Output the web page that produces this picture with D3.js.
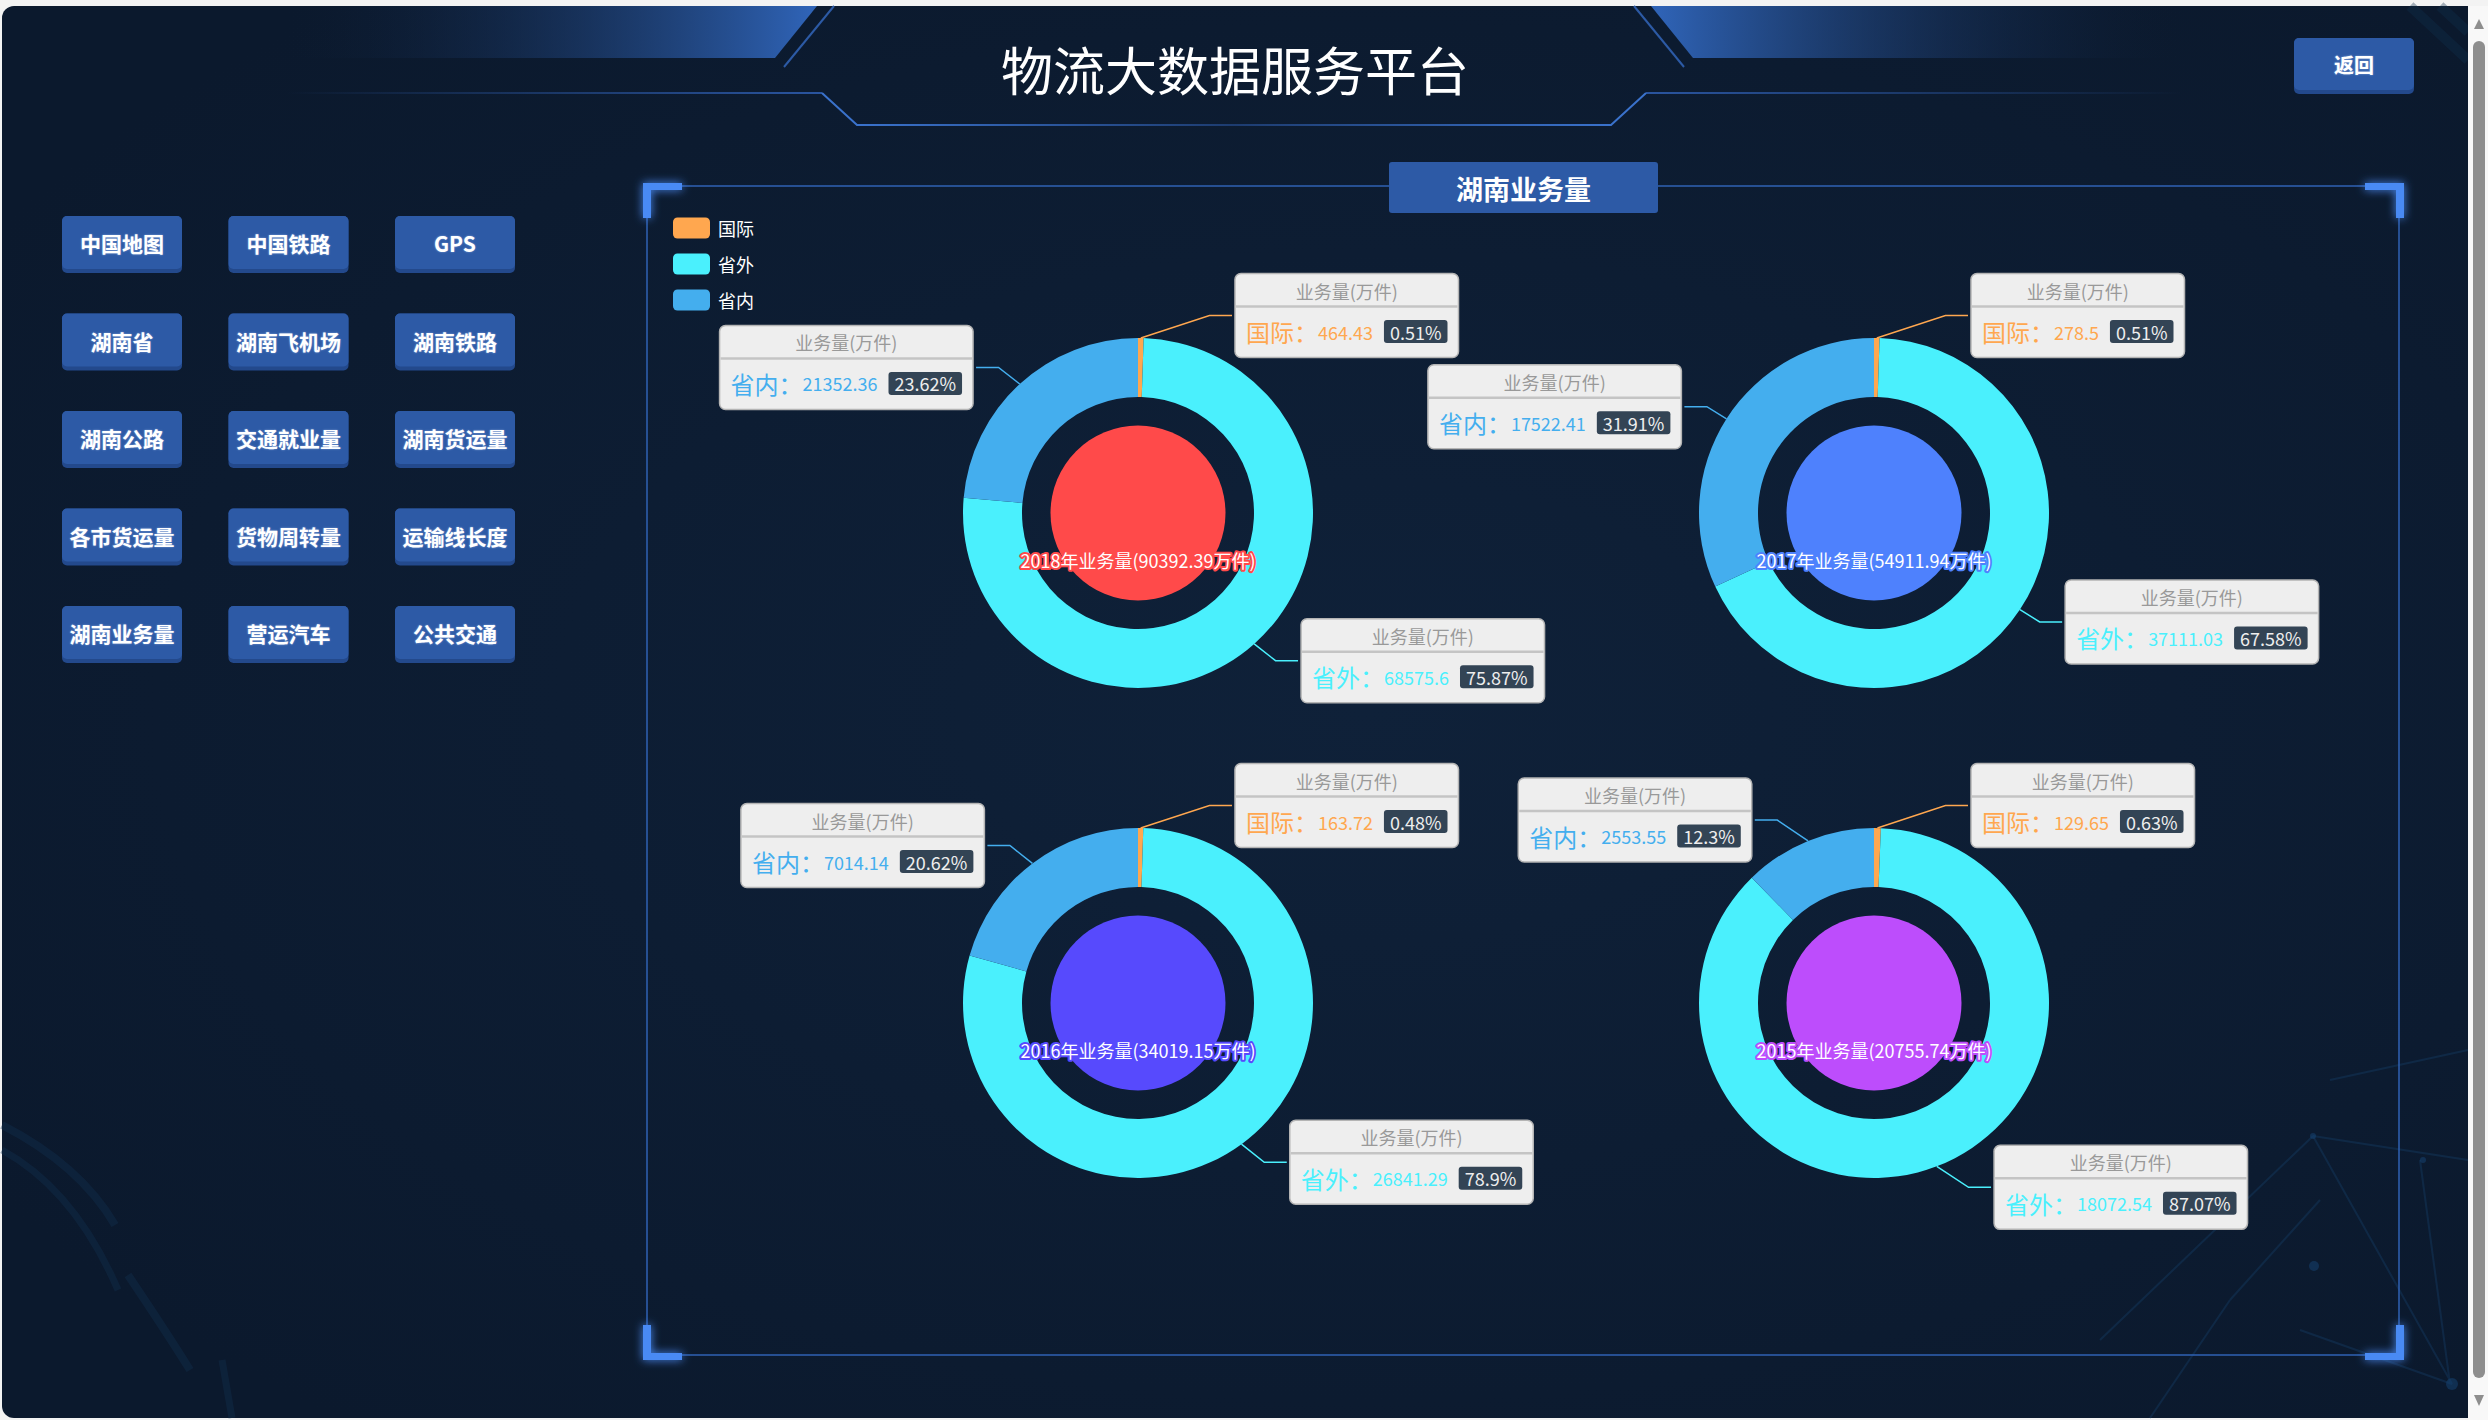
<!DOCTYPE html>
<html>
<head>
<meta charset="utf-8">
<script src="https://cdn.jsdelivr.net/npm/d3@7"></script>
<style>
html, body { margin: 0; padding: 0; background: #f3f3f3; overflow: hidden; }
svg { display: block; }
</style>
</head>
<body>
<svg id="chart" width="2488" height="1420"></svg>
<script>
const FONT = '"Microsoft YaHei","Noto Sans CJK SC","Noto Sans",sans-serif';

// ---- data ----
const years = ["2018", "2017", "2016", "2015"];
const categories = ["国际", "省外", "省内"];
const intlValues = [464.43, 278.5, 163.72, 129.65];
const outValues = [68575.6, 37111.03, 26841.29, 18072.54];
const inValues = [21352.36, 17522.41, 7014.14, 2553.55];
const seriesName = "业务量(万件)";
const sliceColors = ["#ffa74f", "#4af0fd", "#44aeee"];
const coreColors = ["#ff4a4a", "#4e81fd", "#574afd", "#bd4dfc"];
const buttonLabels = ["中国地图", "中国铁路", "GPS", "湖南省", "湖南飞机场", "湖南铁路",
  "湖南公路", "交通就业量", "湖南货运量", "各市货运量", "货物周转量", "运输线长度",
  "湖南业务量", "营运汽车", "公共交通"];

const svg = d3.select("#chart");
const defs = svg.append("defs");

// ---- background panel ----
const bg = defs.append("radialGradient").attr("id", "bgGrad")
  .attr("cx", "55%").attr("cy", "50%").attr("r", "65%");
bg.append("stop").attr("offset", "0%").attr("stop-color", "#0f2139");
bg.append("stop").attr("offset", "100%").attr("stop-color", "#0b192d");

svg.append("rect").attr("x", 2).attr("y", 6).attr("width", 2480).attr("height", 1412)
  .attr("rx", 12).attr("fill", "url(#bgGrad)");

// faint background decoration
const deco = svg.append("g").attr("fill", "none").attr("stroke", "#12304f").attr("opacity", 0.4);
deco.append("path").attr("d", "M2,1125 Q80,1165 115,1225").attr("stroke-width", 8);
deco.append("path").attr("d", "M2,1150 Q75,1190 118,1290").attr("stroke-width", 7);
deco.append("path").attr("d", "M128,1275 Q165,1330 190,1370").attr("stroke-width", 8);
deco.append("path").attr("d", "M222,1360 Q228,1395 232,1418").attr("stroke-width", 7);
const net = svg.append("g").attr("stroke", "#143a61").attr("stroke-width", 2).attr("opacity", 0.45);
[[2313, 1136, 2452, 1384], [2313, 1136, 2468, 1160], [2420, 1160, 2450, 1384], [2300, 1330, 2452, 1384],
 [2100, 1340, 2313, 1136], [2150, 1418, 2230, 1300], [2230, 1300, 2320, 1200], [2330, 1080, 2468, 1050]]
  .forEach(l => net.append("line").attr("x1", l[0]).attr("y1", l[1]).attr("x2", l[2]).attr("y2", l[3]));
svg.append("g").attr("fill", "#164576").attr("opacity", 0.5)
  .selectAll("circle").data([[2452, 1384, 6], [2313, 1136, 3], [2314, 1266, 5], [2423, 1160, 3]])
  .join("circle").attr("cx", d => d[0]).attr("cy", d => d[1]).attr("r", d => d[2]);
const stripes = svg.append("g").attr("stroke", "#10304e").attr("stroke-width", 10).attr("opacity", 0.35);
stripes.append("line").attr("x1", 2410).attr("y1", 6).attr("x2", 2468).attr("y2", 60);
stripes.append("line").attr("x1", 2440).attr("y1", 6).attr("x2", 2468).attr("y2", 32);

// ---- scrollbar ----
svg.append("rect").attr("x", 2468).attr("y", 6).attr("width", 20).attr("height", 1414).attr("fill", "#f8f8f8");
svg.append("rect").attr("x", 2473).attr("y", 41).attr("width", 12).attr("height", 1337).attr("rx", 6).attr("fill", "#8e8e8e");
svg.append("path").attr("d", "M2479,19 L2484,29 L2474,29 Z").attr("fill", "#8e8e8e");
svg.append("path").attr("d", "M2474,1395 L2484,1395 L2479,1406 Z").attr("fill", "#8e8e8e");

// ---- header ----
const gl = defs.append("linearGradient").attr("id", "hdrL").attr("gradientUnits", "userSpaceOnUse")
  .attr("x1", 285).attr("x2", 810).attr("y1", 0).attr("y2", 0);
gl.append("stop").attr("offset", "0%").attr("stop-color", "#0d1c33").attr("stop-opacity", 0);
gl.append("stop").attr("offset", "100%").attr("stop-color", "#2f63b6");
const gr = defs.append("linearGradient").attr("id", "hdrR").attr("gradientUnits", "userSpaceOnUse")
  .attr("x1", 2183).attr("x2", 1658).attr("y1", 0).attr("y2", 0);
gr.append("stop").attr("offset", "0%").attr("stop-color", "#0d1c33").attr("stop-opacity", 0);
gr.append("stop").attr("offset", "100%").attr("stop-color", "#2f63b6");
const lineL = defs.append("linearGradient").attr("id", "lineL").attr("gradientUnits", "userSpaceOnUse")
  .attr("x1", 286).attr("x2", 822).attr("y1", 0).attr("y2", 0);
lineL.append("stop").attr("offset", "0%").attr("stop-color", "#2a55a0").attr("stop-opacity", 0);
lineL.append("stop").attr("offset", "100%").attr("stop-color", "#2a55a0");
const lineR = defs.append("linearGradient").attr("id", "lineR").attr("gradientUnits", "userSpaceOnUse")
  .attr("x1", 2182).attr("x2", 1646).attr("y1", 0).attr("y2", 0);
lineR.append("stop").attr("offset", "0%").attr("stop-color", "#2a55a0").attr("stop-opacity", 0);
lineR.append("stop").attr("offset", "100%").attr("stop-color", "#2a55a0");
const lineC = defs.append("linearGradient").attr("id", "lineC").attr("gradientUnits", "userSpaceOnUse")
  .attr("x1", 857).attr("x2", 1611).attr("y1", 0).attr("y2", 0);
lineC.append("stop").attr("offset", "0%").attr("stop-color", "#3a72cc");
lineC.append("stop").attr("offset", "50%").attr("stop-color", "#1d3c70");
lineC.append("stop").attr("offset", "100%").attr("stop-color", "#3a72cc");

const header = svg.append("g");
header.append("path").attr("d", "M285,6 L817,6 L775,58 L285,58 Z").attr("fill", "url(#hdrL)");
header.append("path").attr("d", "M2183,6 L1651,6 L1693,58 L2183,58 Z").attr("fill", "url(#hdrR)");
header.append("path").attr("d", "M834,6 L784,67").attr("stroke", "#2c5aa5").attr("stroke-width", 2);
header.append("path").attr("d", "M1634,6 L1684,67").attr("stroke", "#2c5aa5").attr("stroke-width", 2);
header.append("path").attr("d", "M286,93 L822,93").attr("stroke", "url(#lineL)").attr("stroke-width", 2);
header.append("path").attr("d", "M1646,93 L2182,93").attr("stroke", "url(#lineR)").attr("stroke-width", 2);
header.append("path").attr("d", "M822,93 L857,125 L1611,125 L1646,93").attr("fill", "none")
  .attr("stroke", "url(#lineC)").attr("stroke-width", 2);
header.append("text").attr("x", 1235).attr("y", 68).attr("text-anchor", "middle")
  .attr("dominant-baseline", "central").attr("fill", "#ffffff").attr("font-family", FONT)
  .attr("font-size", 52).text("物流大数据服务平台");

// ---- buttons ----
function drawButton(g, x, y, w, h, label, size) {
  const b = g.append("g").attr("transform", "translate(" + x + "," + y + ")");
  b.append("rect").attr("width", w).attr("height", h).attr("rx", 5).attr("fill", "#23498c");
  b.append("rect").attr("width", w).attr("height", h - 4).attr("rx", 5).attr("fill", "#2d5aa6");
  b.append("text").attr("x", w / 2).attr("y", (h - 3) / 2).attr("text-anchor", "middle")
    .attr("dominant-baseline", "central").attr("fill", "#ffffff").attr("font-family", FONT)
    .attr("font-weight", "bold").attr("font-size", size)
    .style("text-shadow", "0 0 2px rgba(200,220,255,0.6)").text(label);
}
const colX = d3.scalePoint().domain([0, 1, 2]).range([62, 395]);
const rowY = d3.scalePoint().domain([0, 1, 2, 3, 4]).range([216, 606]);
const btnG = svg.append("g");
buttonLabels.forEach((label, i) => drawButton(btnG, colX(i % 3), rowY(Math.floor(i / 3)), 120, 57, label, 21));
drawButton(svg, 2294, 38, 120, 56, "返回", 20);

// ---- frame ----
const glow = defs.append("filter").attr("id", "glow").attr("x", "-50%").attr("y", "-50%")
  .attr("width", "200%").attr("height", "200%");
glow.append("feGaussianBlur").attr("in", "SourceGraphic").attr("stdDeviation", 5).attr("result", "blur");
const fm = glow.append("feMerge");
fm.append("feMergeNode").attr("in", "blur");
fm.append("feMergeNode").attr("in", "SourceGraphic");

const frame = { left: 647, right: 2399, top: 186, bottom: 1355 };
svg.append("rect").attr("x", frame.left).attr("y", frame.top)
  .attr("width", frame.right - frame.left).attr("height", frame.bottom - frame.top)
  .attr("fill", "none").attr("stroke", "#2f62b4").attr("stroke-width", 1.5);
const brackets = svg.append("g").attr("fill", "#4a8af4").attr("filter", "url(#glow)");
[[643, 183, 1, 1], [2404, 183, -1, 1], [643, 1360, 1, -1], [2404, 1360, -1, -1]].forEach(c => {
  const [x, y, sx, sy] = c;
  brackets.append("path").attr("d",
    "M" + x + "," + y + " h" + (39 * sx) + " v" + (7 * sy) + " h" + (-31 * sx) +
    " v" + (28 * sy) + " h" + (-8 * sx) + " Z");
});
svg.append("rect").attr("x", 1389).attr("y", 162).attr("width", 269).attr("height", 51)
  .attr("rx", 3).attr("fill", "#2d5aa6");
svg.append("text").attr("x", 1523.5).attr("y", 188).attr("text-anchor", "middle")
  .attr("dominant-baseline", "central").attr("fill", "#ffffff").attr("font-family", FONT)
  .attr("font-weight", "bold").attr("font-size", 27).text("湖南业务量");

// ---- legend ----
const legendY = d3.scalePoint().domain(categories).range([228, 300]);
const legend = svg.append("g");
categories.forEach((c, i) => {
  legend.append("rect").attr("x", 673).attr("y", legendY(c) - 10.5).attr("width", 37).attr("height", 21)
    .attr("rx", 4.5).attr("fill", sliceColors[i]);
  legend.append("text").attr("x", 718).attr("y", legendY(c)).attr("dominant-baseline", "central")
    .attr("fill", "#ffffff").attr("font-family", FONT).attr("font-size", 18).text(c);
});

// ---- pies ----
function percentsOf(values, precision) {
  const sum = d3.sum(values);
  const digits = Math.pow(10, precision);
  const quota = values.map(v => v / sum * digits * 100);
  const seats = quota.map(v => Math.floor(v));
  const rem = quota.map((v, i) => v - seats[i]);
  let cur = d3.sum(seats);
  while (cur < digits * 100) {
    const k = d3.maxIndex(rem);
    seats[k]++; rem[k] = 0; cur++;
  }
  return seats.map(s => s / digits);
}

const R = 175, R0 = 116, CORE = 87.5, LEN = 22.5, LEN2 = 22.5;
const pieX = d3.scalePoint().domain([0, 1]).range([1138, 1874]);
const pieY = d3.scalePoint().domain([0, 1]).range([513, 1003]);
const pie = d3.pie().sort(null).value(d => d.value);
const arc = d3.arc().innerRadius(R0).outerRadius(R);

function drawLabelBox(g, x, y, dir, name, value, pct, color) {
  const box = g.append("g").attr("font-family", FONT);
  const rect = box.append("rect");
  const head = box.append("text").attr("font-size", 18).attr("fill", "#999999")
    .attr("text-anchor", "middle").attr("dominant-baseline", "central").text(seriesName);
  const tb = box.append("text").attr("font-size", 24).attr("fill", color)
    .attr("dominant-baseline", "central").text(name + "：");
  const tc = box.append("text").attr("font-size", 18).attr("fill", color)
    .attr("dominant-baseline", "central").text(String(value));
  const badge = box.append("rect");
  const tp = box.append("text").attr("font-size", 18).attr("fill", "#eeeeee")
    .attr("dominant-baseline", "central").text(pct + "%");
  const wb = tb.node().getComputedTextLength();
  const wc = tc.node().getComputedTextLength();
  const wp = tp.node().getComputedTextLength();
  const pad = 11;
  const boxW = pad + wb + wc + pad + wp + 12 + pad;
  const left = dir > 0 ? x : x - boxW;
  const top = y - 42;
  rect.attr("x", left).attr("y", top).attr("width", boxW).attr("height", 84).attr("rx", 6)
    .attr("fill", "#eeeeee").attr("stroke", "#b4b4b4").attr("stroke-width", 1.5);
  head.attr("x", left + boxW / 2).attr("y", top + 17);
  box.append("line").attr("x1", left + 1).attr("x2", left + boxW - 1).attr("y1", top + 33).attr("y2", top + 33)
    .attr("stroke", "#c4c4c4").attr("stroke-width", 2.5);
  const rowC = top + 58;
  tb.attr("x", left + pad).attr("y", rowC);
  tc.attr("x", left + pad + wb).attr("y", rowC);
  const bx = left + pad + wb + wc + pad;
  badge.attr("x", bx).attr("y", rowC - 11.5).attr("width", wp + 12).attr("height", 23).attr("rx", 3)
    .attr("fill", "#334455");
  tp.attr("x", bx + 6).attr("y", rowC);
}

years.forEach((year, i) => {
  const cx = pieX(i % 2), cy = pieY(Math.floor(i / 2));
  const values = [intlValues[i], outValues[i], inValues[i]];
  const pcts = percentsOf(values, 2);
  const data = categories.map((c, k) => ({ name: c, value: values[k], pct: pcts[k], color: sliceColors[k] }));
  const arcs = pie(data);
  const g = svg.append("g");
  g.append("g").attr("transform", "translate(" + cx + "," + cy + ")")
    .selectAll("path").data(arcs).join("path")
    .attr("d", arc).attr("fill", d => d.data.color);

  g.append("circle").attr("cx", cx).attr("cy", cy).attr("r", CORE).attr("fill", coreColors[i]);

  // labels placed the echarts way: radial run, then pushed out along an ellipse
  arcs.forEach(a => {
    const mid = (a.startAngle + a.endAngle) / 2;
    const dx = Math.sin(mid), dy = -Math.cos(mid);
    const dir = dx < 0 ? -1 : 1;
    const x1 = cx + R * dx, y1 = cy + R * dy;
    const ly = cy + (R + LEN) * dy;
    const deltaY = Math.abs(ly - cy);
    const deltaX = deltaY < R + LEN
      ? Math.sqrt((R + LEN + LEN2) * (R + LEN + LEN2) - deltaY * deltaY)
      : Math.abs((cx + (R + LEN) * dx + dir * LEN2) - cx);
    const lx = cx + deltaX * dir;
    const x3 = lx - 3 * dir, x2 = x3 - LEN2 * dir;
    g.append("polyline").attr("points", [[x1, y1], [x2, ly], [x3, ly]].map(p => p.join(",")).join(" "))
      .attr("fill", "none").attr("stroke", a.data.color).attr("stroke-width", 1.5);
    drawLabelBox(g, lx, ly, dir, a.data.name, a.data.value, a.data.pct, a.data.color);
  });

  const total = +d3.sum(values).toFixed(2);
  g.append("text").attr("x", cx).attr("y", cy + 47).attr("text-anchor", "middle")
    .attr("dominant-baseline", "central").attr("font-family", FONT).attr("font-size", 18)
    .attr("fill", "#ffffff").attr("stroke", coreColors[i]).attr("stroke-width", 4)
    .attr("stroke-linejoin", "round").attr("paint-order", "stroke")
    .text(year + "年业务量(" + total + "万件)");
});
</script>
</body>
</html>
